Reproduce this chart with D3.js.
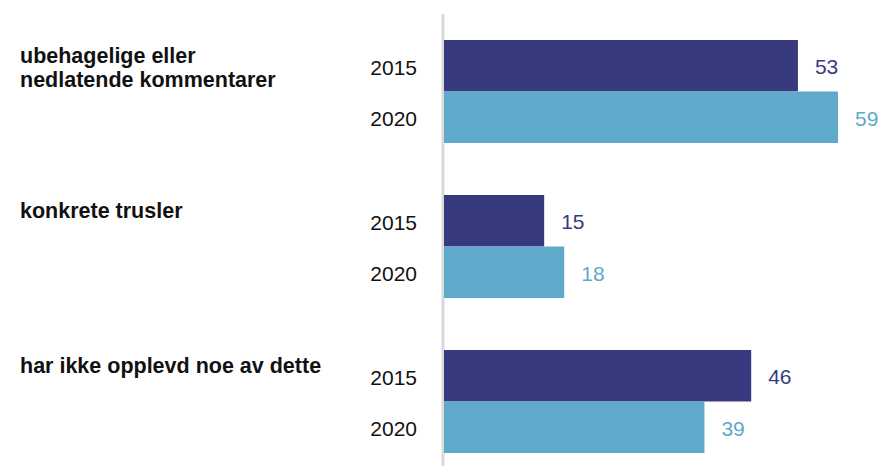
<!DOCTYPE html>
<html>
<head>
<meta charset="utf-8">
<script src="https://cdn.jsdelivr.net/npm/d3@7"></script>
<style>
  body { margin: 0; background: #fff; }
  svg { display: block; font-family: "Liberation Sans", Arial, Helvetica, sans-serif; }
</style>
</head>
<body>
<svg width="880" height="466"></svg>
<script>
const categories = [
  ["ubehagelige eller", "nedlatende kommentarer"],
  ["konkrete trusler"],
  ["har ikke opplevd noe av dette"]
];
const years = ["2015", "2020"];
const values2015 = [53, 15, 46];
const values2020 = [59, 18, 39];

const colors = { "2015": "#383a7f", "2020": "#5fa9cb" };

const svg = d3.select("svg");
const data = categories.map((c, i) => ({
  key: i,
  label: c,
  vals: [{ year: "2015", v: values2015[i] }, { year: "2020", v: values2020[i] }]
}));

const x = d3.scaleLinear().domain([0, 59]).range([444, 838]);
const y0 = d3.scaleBand()
  .domain(data.map(d => d.key))
  .range([40, 453])
  .paddingInner(0.3355)
  .paddingOuter(0);
const y1 = d3.scaleBand().domain(years).range([0, y0.bandwidth()]);

// vertical axis line
svg.append("line")
  .attr("x1", 443).attr("x2", 443)
  .attr("y1", 14).attr("y2", 466)
  .attr("stroke", "#d9d9d9")
  .attr("stroke-width", 3);

const g = svg.selectAll("g.group")
  .data(data)
  .join("g")
  .attr("class", "group")
  .attr("transform", d => `translate(0,${y0(d.key)})`);

// category labels
g.append("text")
  .attr("x", 20)
  .attr("y", 23)
  .attr("font-size", 21.5)
  .attr("font-weight", "bold")
  .attr("fill", "#111")
  .selectAll("tspan")
  .data(d => d.label)
  .join("tspan")
  .attr("x", 20)
  .attr("dy", (d, i) => i === 0 ? 0 : 24)
  .text(d => d);

const row = g.selectAll("g.row")
  .data(d => d.vals)
  .join("g")
  .attr("class", "row")
  .attr("transform", d => `translate(0,${y1(d.year)})`);

row.append("rect")
  .attr("x", x(0))
  .attr("y", 0)
  .attr("width", d => x(d.v) - x(0))
  .attr("height", y1.bandwidth())
  .attr("fill", d => colors[d.year]);

row.append("text")
  .attr("x", 417)
  .attr("y", y1.bandwidth() / 2)
  .attr("dy", "0.42em")
  .attr("text-anchor", "end")
  .attr("font-size", 21)
  .attr("fill", "#111")
  .text(d => d.year);

row.append("text")
  .attr("x", d => x(d.v) + 17)
  .attr("y", y1.bandwidth() / 2)
  .attr("dy", "0.4em")
  .attr("font-size", 21)
  .attr("fill", d => colors[d.year])
  .text(d => d.v);
</script>
</body>
</html>
